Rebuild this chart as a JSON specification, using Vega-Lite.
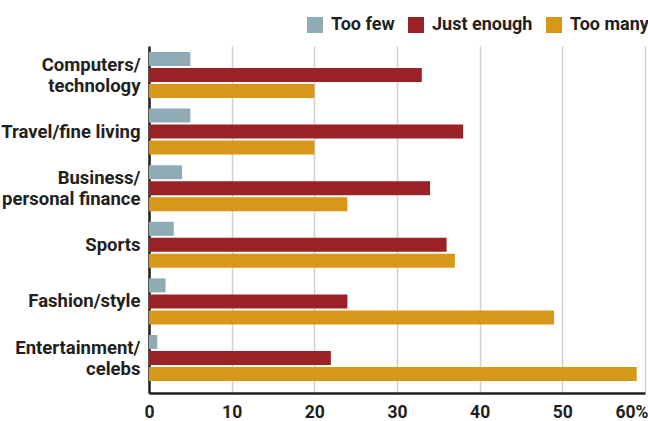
{
  "$schema": "https://vega.github.io/schema/vega-lite/v6.json",
  "width": 496,
  "height": 347,
  "autosize": {"type": "none"},
  "padding": {"left": 149, "top": 46, "right": 3, "bottom": 28},
  "background": "#ffffff",
  "config": {
    "font": "Roboto, Liberation Sans, sans-serif",
    "view": {"stroke": null}
  },
  "data": {
    "values": [
      {"topic": "Computers/\ntechnology", "answer": "Too few", "pct": 5},
      {"topic": "Computers/\ntechnology", "answer": "Just enough", "pct": 33},
      {"topic": "Computers/\ntechnology", "answer": "Too many", "pct": 20},
      {"topic": "Travel/fine living", "answer": "Too few", "pct": 5},
      {"topic": "Travel/fine living", "answer": "Just enough", "pct": 38},
      {"topic": "Travel/fine living", "answer": "Too many", "pct": 20},
      {"topic": "Business/\npersonal finance", "answer": "Too few", "pct": 4},
      {"topic": "Business/\npersonal finance", "answer": "Just enough", "pct": 34},
      {"topic": "Business/\npersonal finance", "answer": "Too many", "pct": 24},
      {"topic": "Sports", "answer": "Too few", "pct": 3},
      {"topic": "Sports", "answer": "Just enough", "pct": 36},
      {"topic": "Sports", "answer": "Too many", "pct": 37},
      {"topic": "Fashion/style", "answer": "Too few", "pct": 2},
      {"topic": "Fashion/style", "answer": "Just enough", "pct": 24},
      {"topic": "Fashion/style", "answer": "Too many", "pct": 49},
      {"topic": "Entertainment/\ncelebs", "answer": "Too few", "pct": 1},
      {"topic": "Entertainment/\ncelebs", "answer": "Just enough", "pct": 22},
      {"topic": "Entertainment/\ncelebs", "answer": "Too many", "pct": 59}
    ]
  },
  "mark": {"type": "bar", "cornerRadius": 0},
  "encoding": {
    "y": {
      "field": "topic",
      "type": "nominal",
      "sort": null,
      "scale": {"paddingInner": 0.187, "paddingOuter": 0.159, "align": 0.333},
      "axis": {
        "title": null,
        "ticks": false,
        "domain": true,
        "domainColor": "#231f20",
        "domainWidth": 2.5,
        "labelExpr": "split(datum.value, '\\n')",
        "labelFont": "Roboto, Liberation Sans, sans-serif",
        "labelFontWeight": "bold",
        "labelFontSize": 18.5,
        "labelLineHeight": 21,
        "labelOffset": {"condition": {"test": "indexof(datum.value, '\\n') >= 0", "value": -10}, "value": 0},
        "labelColor": "#231f20",
        "labelPadding": 9,
        "labelLimit": 200
      }
    },
    "yOffset": {
      "field": "answer",
      "type": "nominal",
      "sort": ["Too few", "Just enough", "Too many"],
      "scale": {"paddingInner": 0.125, "paddingOuter": 0}
    },
    "x": {
      "field": "pct",
      "type": "quantitative",
      "scale": {"domain": [0, 60], "nice": false},
      "axis": {
        "title": null,
        "values": [0, 10, 20, 30, 40, 50, 60],
        "ticks": false,
        "domain": true,
        "domainColor": "#231f20",
        "domainWidth": 2.5,
        "grid": true,
        "gridColor": "#d0d0d0",
        "gridWidth": 1.5,
        "labelExpr": "datum.value == 60 ? '60%' : datum.label",
        "labelAlign": {"condition": {"test": "datum.value == 60", "value": "right"}, "value": "center"},
        "labelOffset": {"condition": {"test": "datum.value == 60", "value": 3}, "value": 0},
        "labelFont": "Roboto, Liberation Sans, sans-serif",
        "labelFontWeight": "bold",
        "labelFontSize": 17.5,
        "labelColor": "#231f20",
        "labelPadding": 10
      }
    },
    "color": {
      "field": "answer",
      "type": "nominal",
      "scale": {
        "domain": ["Too few", "Just enough", "Too many"],
        "range": ["#8fabb5", "#9a2226", "#d79719"]
      },
      "legend": {
        "title": null,
        "orient": "none",
        "direction": "horizontal",
        "legendX": 157,
        "legendY": -30,
        "symbolType": "square",
        "symbolSize": 256,
        "symbolStrokeWidth": 0,
        "symbolOpacity": 1,
        "labelFont": "Roboto, Liberation Sans, sans-serif",
        "labelFontWeight": "bold",
        "labelFontSize": 18,
        "labelColor": "#231f20",
        "labelOffset": 7,
        "columnPadding": 12,
        "padding": 0
      }
    }
  }
}
